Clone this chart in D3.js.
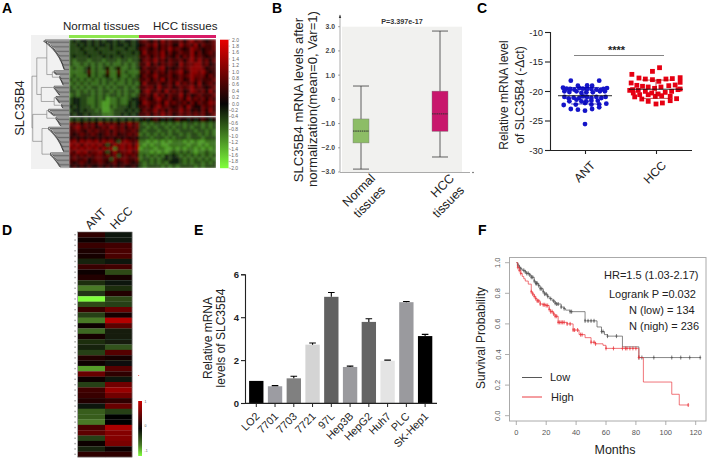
<!DOCTYPE html>
<html><head><meta charset="utf-8">
<script src="https://d3js.org/d3.v7.min.js"></script>
<style>
html,body{margin:0;padding:0;background:#fff}
svg{display:block}
text{font-family:"Liberation Sans",Arial,sans-serif;fill:#222}
</style></head><body><svg id="c" width="708" height="460" viewBox="0 0 708 460"></svg>
<script>
// ---------- Panel A: rows are "normal | HCC", digits run from green through black to red
const heatUpper=[
"3434434343443434434 676575867667578676567","3343434344343443434 567685767558676857667",
"3334333433343334334 676575768676568765667","3333433343333433343 586676857567668575676",
"3433343334343343333 667576866575768676566","3233323332333233233 577686757667578686757",
"3223232323232232323 668575767658677886756","2322352323523522323 576667856567678887566",
"2222362322622623222 667576757678568878656","2322252323522522323 576686667567678777576",
"3232323232332323233 667576857667568676667","2323232232323223232 586667567586767585676",
"3232323323232332323 667758667567678676567","3323232323323232332 578667586767568767586",
"2323332323233232323 667586757668575676667","3443322323122322344 676578667567586767576",
"3443322321122322434 587667586766757576687","4343332321132333434 667578676567586557676",
"3443433231123334343 576686757668675657586","4344343332223343434 667576867567676767567"];
const heatBand=["3434343434343434343 454565454565545456545"];
const heatLower=[
"7675767586767576867 323233232323233232323","6786767567687675767 332323323233232332323",
"6676576766757676676 323332332323333233232","6567667656767566767 232323232332323323232",
"5656565656565656565 333233323233323332333","7868787868786378767 221212121222121211222",
"8786878786368787868 212122112222212212122","7878787868782787878 122212211212122121212",
"7687867786368677867 222121212323232122322","6767676776767367676 232323243432323232323",
"6766756776637677667 233232343443232323232","6567656676567567656 323232324443232332323",
"5656565565656565565 323333232323333232333"];
const heatTicks=["2.0","1.8","1.6","1.4","1.2","1.0","0.8","0.6","0.4","0.2","0.0","-0.2","-0.4","-0.6","-0.8","-1.0","-1.2","-1.4","-1.6","-1.8","-2.0"];
// ---------- Panel B
const boxCats=["Normal tissues","HCC tissues"];
const boxLow=[-2.88,-2.38], boxQ1=[-1.8,-1.32], boxMed=[-1.31,-0.6], boxQ3=[-0.81,0.34], boxHigh=[0.55,2.82];
const boxTicks=[3,2,1,0,-1,-2,-3];
// ---------- Panel C
const antVals=[-18.25,-18.25,-19.1,-19.05,-19.1,-19.45,-19.6,-19.66,-19.77,-19.5,-19.6,-19.66,-19.66,-19.77,-19.77,-19.66,-19.5,-20.06,-20.17,-20.06,-20.34,-20.23,-20.23,-20.06,-20.06,-21,-21.24,-21.13,-21.19,-20.9,-21,-21.19,-21,-21.19,-21,-21.75,-21.47,-21.75,-21.75,-21.64,-21.64,-22.37,-22.3,-22.03,-22.3,-22.26,-22.15,-23.05,-23.16,-23.33,-23.05,-22.77,-25.6];
const antSpread=[-.2,.2,-.1,.03,.1,-.31,-.26,-.21,-.15,-.08,-.03,.03,.09,.16,.22,.26,.31,-.29,-.22,-.12,-.05,.02,.11,.21,.28,-.29,-.23,-.16,-.08,-.03,.03,.09,.16,.23,.29,-.22,-.12,-.05,.02,.09,.18,-.3,-.13,0,.09,.2,.3,-.2,-.1,0,.1,.2,0];
const hccVals=[-16.05,-16.67,-17.18,-17.8,-17.97,-18.08,-18.36,-17.97,-17.9,-17.74,-18.53,-18.64,-19.04,-19.2,-19.32,-19.55,-19.32,-19.1,-18.98,-19.77,-19.89,-20.06,-20.34,-20.5,-20.23,-20.06,-19.77,-21,-21.36,-20.62,-20.9,-20.8,-20.9,-21.3,-20.62,-20.34,-21.75,-22.2,-22.03,-21.64,-19.89,-19.66];
const hccSpread=[.05,-.05,-.34,-.24,-.15,-.05,.04,.14,.23,.34,.34,-.35,-.27,-.19,-.11,-.02,.07,.18,.27,-.33,-.25,-.15,-.06,.03,.13,.22,.31,-.3,-.2,-.11,-.01,.08,.2,.29,-.23,-.32,-.11,0,.09,.2,-.37,.34];
const scatCats=["ANT","HCC"], scatMean=[-20.8,-19.7], scatSD=[1.4,1.55];
// ---------- Panel D
const antRow=[.2,.05,.25,.12,.1,-.15,.25,.05,.15,-.2,-.6,-.25,-1,-.35,.25,-.3,-.6,.05,-.5,.1,-.2,-.15,-.3,.15,.05,-.7,.5,.05,-.3,.3,.25,.15,-.1,-.45,-.45,-.6,.35,.45,-.3,.03,-.15,.2];
const hccRow=[-.1,-.1,.3,.35,.35,-.1,.3,-.35,.1,-.1,-.2,.15,-.35,-.3,.5,.1,.9,.45,-.12,-.12,-.12,-.4,.4,.1,-.05,.4,.2,-.1,.55,.75,.55,.2,.5,-.3,0,0,.85,.65,.65,.6,.05,.2];
// ---------- Panel E
const cellLines=["LO2","7701","7703","7721","97L","Hep3B","HepG2","Huh7","PLC","SK-Hep1"];
const cellVals=[1.03,.78,1.15,2.72,4.95,1.68,3.78,1.97,4.7,3.12];
const cellErr=[0,.03,.1,.08,.2,.04,.15,.03,.03,.08];
const cellFill=["#000","#9c9ca2","#808080","#d4d4d4","#616161","#9a9a9e","#646464","#e4e4e4","#9a9a9e","#000"];
// ---------- Panel F
const lowMonths=[0,1,2,3,4,6,7,9,10,12,13,15,16,18,19,21,22,24,26,27,30,32,33,36,46,47,54,57,59,61,71,82,123];
const lowSurv=[1,.985,.97,.96,.95,.94,.93,.92,.905,.88,.865,.85,.83,.81,.795,.78,.765,.75,.735,.73,.71,.70,.69,.68,.62,.62,.58,.55,.53,.52,.45,.38,.38];
const highMonths=[0,1,2,3,4,5,6,8,10,11,12,13,14,16,18,20,22,23,25,26,28,34,38,42,46,50,53,58,60,82,83,85,104,109,115];
const highSurv=[1,.97,.95,.93,.91,.895,.88,.86,.81,.795,.78,.765,.75,.73,.725,.72,.695,.68,.665,.65,.61,.60,.56,.53,.51,.48,.47,.46,.44,.38,.38,.22,.14,.07,.07];
const lowCensor=[1,2,3,5,6,7,8,9,10,11,12,13,13.5,14,15,16,17,18,19,20,21,23,25,26,27,28,30,32,36,37,46,48,50,52,57,58,61,67,82,84,92,104,110,116,123];
const highCensor=[1,2,3,10,11,12,13,14,15,16,18,19,20,21,22,23,24,25,26,27,28,29,30,31,32,34,36,38,39,41,43,44,50,52,53,60,65,71,73,74,76,78,80,82,115];
const xMonths=[0,20,40,60,80,100,120], ySurv=[0,.2,.4,.6,.8,1];

const svg=d3.select("#c");
const txt=(g,x,y,s,size,o={})=>{const t=g.append("text").attr("x",x).attr("y",y).attr("font-size",size).text(s);
  if(o.anchor)t.attr("text-anchor",o.anchor); if(o.weight)t.attr("font-weight",o.weight); if(o.rot!=null)t.attr("transform",`rotate(${o.rot} ${x} ${y})`); if(o.fill)t.style("fill",o.fill); return t;};
[["A",2,13],["B",272,13],["C",477,13],["D",2,235],["E",194,235],["F",478,235]].forEach(d=>txt(svg,d[1],d[2],d[0],14,{weight:"bold"}).style("fill","#000"));

const defs=svg.append("defs");
const soft=(id,s)=>defs.append("filter").attr("id",id).attr("x","-5%").attr("y","-5%").attr("width","110%").attr("height","110%").append("feGaussianBlur").attr("stdDeviation",s);
soft("soft",.55);soft("softA",.95);
const heatColor=d3.scaleLinear().domain([-2,0,2]).range(["#80ff3c","#050505","#e80000"]).clamp(true);
const gradRed=(id,dom,col)=>{const g=defs.append("linearGradient").attr("id",id).attr("x1",0).attr("x2",0).attr("y1",0).attr("y2",1);
  dom.forEach(v=>g.append("stop").attr("offset",(dom[0]-v)/(dom[0]-dom[dom.length-1])).attr("stop-color",col(v)));};

// ===== A
{
 const g=svg.append("g");
 g.append("rect").attr("x",31).attr("y",35).attr("width",38).attr("height",134).attr("fill","#f1f1f1");
 txt(g,63,30,"Normal tissues",11.6);txt(g,153,30,"HCC tissues",11.6);
 g.append("rect").attr("x",69).attr("y",35).attr("width",70).attr("height",3).attr("fill","#8ee64e");
 g.append("rect").attr("x",139).attr("y",35).attr("width",77).attr("height",3).attr("fill","#d81b66");
 txt(g,24,108,"SLC35B4",13,{rot:-90,anchor:"middle"}).attr("y",108);
 const cp=defs.append("clipPath").attr("id","clipA");cp.append("rect").attr("x",69).attr("y",39).attr("width",147).attr("height",129);
 const hm=g.append("g").attr("clip-path","url(#clipA)").append("g").attr("filter","url(#softA)");
 const block=(rows,y0,y1)=>{
  const yS=d3.scaleBand().domain(d3.range(rows.length)).range([y0,y1]);
  rows.forEach((r,i)=>{const [a,b]=r.split(" ");
   [[a,69,139],[b,139,216]].forEach(([s,x0,x1])=>{
    const xS=d3.scaleBand().domain(d3.range(s.length)).range([x0,x1]);
    hm.selectAll(null).data(s.split("")).join("rect").attr("x",(d,j)=>xS(j)).attr("y",yS(i))
      .attr("width",xS.bandwidth()+.3).attr("height",yS.bandwidth()+.3).attr("fill",d=>heatColor((+d-4.5)/2.9));
   });});
 };
 block(heatUpper,39.3,116.3);block(heatBand,117.3,122);block(heatLower,122,168);
 g.append("rect").attr("x",69).attr("y",116).attr("width",147).attr("height",1.2).attr("fill","#c9c9c9");
 gradRed("barA",[2,0,-2],heatColor);
 g.append("rect").attr("x",220).attr("y",39.7).attr("width",8.5).attr("height",128.5).attr("fill","url(#barA)");
 const cy=d3.scalePoint().domain(heatTicks).range([39.7,168]);
 heatTicks.forEach(t=>{const y=cy(t);
  g.append("line").attr("x1",228.5).attr("x2",230).attr("y1",y).attr("y2",y).attr("stroke","#888").attr("stroke-width",.4);
  txt(g,t[0]=="-"?229.5:232,y+1.8,t,5,{fill:"#666"});});
 const ladder=(n)=>n<=1?{leaf:1}:{lad:1,children:[{leaf:1},ladder(n-1)]};
 const cl=(h,...ch)=>({h,children:ch});
 const tree=cl(0,
  cl(.13,
   cl(.40,cl(.30,ladder(24)),cl(.55,ladder(4),cl(.7,ladder(8)))),
   cl(.25,cl(.55,ladder(8)),cl(.6,ladder(6),cl(.75,ladder(4))))),
  cl(.02,
   cl(.40,ladder(6),cl(.6,ladder(8))),
   cl(.27,cl(.4,ladder(20)),cl(.45,ladder(12)))));
 const root=d3.hierarchy(tree);
 const leaves=root.leaves();
 const yy=d3.scaleLinear().domain([0,leaves.length-1]).range([40,167]);
 const xx=d3.scaleLinear().domain([0,1]).range([32,69]);
 leaves.forEach((l,i)=>{l.py=yy(i);l.hh=1;});
 root.eachAfter(n=>{if(n.children){n.py=d3.mean(n.children,c=>c.py);
   if(n.data.h!=null)n.hh=n.data.h;
   else n.hh=d3.min(n.children,c=>c.hh)-.03;}});
 root.eachBefore(n=>{if(n.data.lad&&n.parent&&n.parent.data.lad)n.hh=Math.min(.97,n.parent.hh+(1-n.parent.hh)*.07);
   if(n.data.lad&&n.parent&&!n.parent.data.lad)n.hh=n.parent.hh+.05;});
 root.links().forEach(l=>{const dark=l.source.data.lad;
  g.append("path").attr("d",`M${xx(l.source.hh)},${l.source.py}V${l.target.py}H${xx(l.target.hh)}`)
   .attr("fill","none").attr("stroke",dark?"#111":"#777").attr("stroke-width",.6);});
}

// ===== B
{
 const g=svg.append("g");
 const y=d3.scaleLinear().domain([-3,3]).range([172,26.7]);
 const x=d3.scalePoint().domain(boxCats).range([361,440]);
 g.append("rect").attr("x",342).attr("y",26.7).attr("width",120).attr("height",145.3).attr("fill","#f1f1ef");
 g.append("line").attr("x1",340).attr("x2",470).attr("y1",172.5).attr("y2",172.5).attr("stroke","#aaa").attr("stroke-width",1);
 g.append("line").attr("x1",340).attr("x2",340).attr("y1",15).attr("y2",172).attr("stroke","#777").attr("stroke-width",.6);
 g.append("path").attr("d","M338.8,18L340,14.5L341.2,18Z").attr("fill","#333");
 boxTicks.forEach(t=>{g.append("line").attr("x1",338).attr("x2",340).attr("y1",y(t)).attr("y2",y(t)).attr("stroke","#555").attr("stroke-width",.5);
  txt(g,335,y(t)+2.4,t===0?"0":d3.format(".1f")(t),6.8,{anchor:"end",weight:"bold",fill:"#444"});});
 txt(g,402,23.5,"P=3.397e-17",7.2,{anchor:"middle",weight:"bold",fill:"#333"});
 const cols=["#8dbd66","#c8176c"], bw=16;
 boxCats.forEach((c,i)=>{const cx=x(c),w=.8,s="#3a3a3a";
  g.append("line").attr("x1",cx).attr("x2",cx).attr("y1",y(boxHigh[i])).attr("y2",y(boxLow[i])).attr("stroke",s).attr("stroke-width",w);
  [boxHigh[i],boxLow[i]].forEach(v=>g.append("line").attr("x1",cx-8).attr("x2",cx+8).attr("y1",y(v)).attr("y2",y(v)).attr("stroke",s).attr("stroke-width",w));
  g.append("rect").attr("x",cx-bw/2).attr("y",y(boxQ3[i])).attr("width",bw).attr("height",y(boxQ1[i])-y(boxQ3[i])).attr("fill",cols[i]).attr("stroke","#777").attr("stroke-width",.4);
  g.append("line").attr("x1",cx-bw/2).attr("x2",cx+bw/2).attr("y1",y(boxMed[i])).attr("y2",y(boxMed[i])).attr("stroke","#333").attr("stroke-width",1).attr("stroke-dasharray","1.6 .6");
 });
 txt(g,303,100,"SLC35B4 mRNA levels after",13.1,{rot:-90,anchor:"middle"});
 txt(g,317,99,"normalization(mean=0, Var=1)",13.1,{rot:-90,anchor:"middle"});
 const lab=[["Normal","tissues"],["HCC","tissues"]];
 lab.forEach((l,i)=>{const cx=x(boxCats[i]);
  txt(g,cx+15,179,l[0],12.5,{rot:-45,anchor:"end"});
  txt(g,cx+25,191,l[1],12.5,{rot:-45,anchor:"end"});});
}

// ===== C
{
 const g=svg.append("g");
 const y=d3.scaleLinear().domain([-30,-10]).range([150,32]);
 const x=d3.scalePoint().domain(scatCats).range([585,656]);
 const step=x.step();
 const ax=g.append("g").attr("transform","translate(550,0)").call(d3.axisLeft(y).tickValues([-30,-25,-20,-15,-10]).tickSize(5).tickPadding(2).tickFormat(d=>d));
 ax.selectAll("text").attr("font-size",9.5).attr("font-family","Liberation Sans").style("fill","#222");
 ax.selectAll("line,path").attr("stroke","#222").attr("stroke-width",1.1);
 const bx=g.append("g").attr("transform","translate(0,150)").call(d3.axisBottom(x).tickSize(4).tickFormat(""));
 bx.select("path").remove();bx.selectAll("line").attr("stroke","#222").attr("stroke-width",1.1);
 g.append("line").attr("x1",550).attr("x2",692).attr("y1",150.5).attr("y2",150.5).attr("stroke","#222").attr("stroke-width",1.2);
 g.append("line").attr("x1",574).attr("x2",664).attr("y1",55.5).attr("y2",55.5).attr("stroke","#777").attr("stroke-width",.9);
 txt(g,616.5,54,"****",11,{anchor:"middle",weight:"bold"});
 g.selectAll("circle.a").data(antVals).join("circle").attr("cx",(d,i)=>x("ANT")+antSpread[i]*step).attr("cy",d=>y(d)).attr("r",2.4).attr("fill","#1414c8");
 g.selectAll("rect.h").data(hccVals).join("rect").attr("x",(d,i)=>x("HCC")+hccSpread[i]*step-2.4).attr("y",d=>y(d)-2.4).attr("width",4.8).attr("height",4.8).attr("fill","#e60012");
 scatCats.forEach((c,i)=>{const cx=x(c);
  g.append("line").attr("x1",cx-27).attr("x2",cx+27).attr("y1",y(scatMean[i])).attr("y2",y(scatMean[i])).attr("stroke","#111").attr("stroke-width",.9);
  [1,-1].forEach(k=>g.append("line").attr("x1",cx-14).attr("x2",cx+14).attr("y1",y(scatMean[i]+k*scatSD[i])).attr("y2",y(scatMean[i]+k*scatSD[i])).attr("stroke",i?"#a00":"#00a").attr("stroke-width",.7));
  g.append("line").attr("x1",cx).attr("x2",cx).attr("y1",y(scatMean[i]+scatSD[i])).attr("y2",y(scatMean[i]-scatSD[i])).attr("stroke",i?"#a00":"#00a").attr("stroke-width",.7);
  txt(g,cx+11,166,c,12,{rot:-45,anchor:"end"});
 });
 txt(g,508,95,"Relative mRNA level",12,{rot:-90,anchor:"middle"});
 txt(g,524,95,"of SLC35B4 (-\u0394ct)",12,{rot:-90,anchor:"middle"});
 g.append("circle").attr("cx",473).attr("cy",172.5).attr("r",.7).attr("fill","#333");
}

// ===== D
{
 const g=svg.append("g");
 const y=d3.scaleBand().domain(d3.range(antRow.length)).range([232,457]);
 const x=d3.scaleBand().domain(["ANT","HCC"]).range([78,132]);
 const col=d3.scaleLinear().domain([-1,-.6,0,1]).range(["#80ff3c","#487a26","#060606","#c80000"]).clamp(true);
 const h=g.append("g").attr("filter","url(#soft)");
 [["ANT",antRow],["HCC",hccRow]].forEach(([n,a])=>h.selectAll(null).data(a).join("rect").attr("x",x(n)).attr("y",(d,i)=>y(i)).attr("width",x.bandwidth()+.2).attr("height",y.bandwidth()+.2).attr("fill",d=>col(d)));
 g.append("rect").attr("x",77.5).attr("y",232).attr("width",54.5).attr("height",225).attr("fill","none").attr("stroke","#777").attr("stroke-width",.6);
 antRow.forEach((d,i)=>g.append("rect").attr("x",74.3).attr("y",y(i)+y.bandwidth()/2-.7).attr("width",1.6).attr("height",1.4).attr("fill","#aaa"));
 txt(g,90,230,"ANT",12,{rot:-45});
 txt(g,115,230,"HCC",12,{rot:-45});
 gradRed("barD",[1,.5,0,-.6,-1],col);
 g.append("rect").attr("x",138.2).attr("y",401).attr("width",3.8).attr("height",55).attr("fill","url(#barD)");
 [["1",402],["0",426],["-1",451]].forEach(d=>txt(g,144.5,d[1]+1,d[0],3.5,{fill:"#555"}));
 g.append("circle").attr("cx",138.7).attr("cy",375.5).attr("r",.5).attr("fill","#e33");
}

// ===== E
{
 const g=svg.append("g");
 const y=d3.scaleLinear().domain([0,6]).range([403,274.3]);
 const x=d3.scaleBand().domain(cellLines).range([244.7,436.7]).padding(.235);
 const ax=g.append("g").attr("transform","translate(245,0)").call(d3.axisLeft(y).tickValues([0,2,4,6]).tickSize(4).tickPadding(2).tickFormat(d=>d));
 ax.selectAll("text").attr("font-size",9.5).attr("font-family","Liberation Sans").attr("font-weight","bold").style("fill","#222");
 ax.selectAll("line,path").attr("stroke","#222").attr("stroke-width",1.1);
 g.selectAll("rect.b").data(cellVals).join("rect").attr("x",(d,i)=>x(cellLines[i])).attr("y",d=>y(d)).attr("width",x.bandwidth()).attr("height",d=>y(0)-y(d)).attr("fill",(d,i)=>cellFill[i]);
 cellVals.forEach((v,i)=>{if(!cellErr[i])return;const cx=x(cellLines[i])+x.bandwidth()/2;
  g.append("path").attr("d",`M${cx},${y(v)}V${y(v+cellErr[i])}M${cx-3.3},${y(v+cellErr[i])}H${cx+3.3}`).attr("stroke","#000").attr("stroke-width",1.1).attr("fill","none");});
 g.append("line").attr("x1",245).attr("x2",437).attr("y1",403.3).attr("y2",403.3).attr("stroke","#222").attr("stroke-width",1.2);
 cellLines.forEach(c=>{const cx=x(c)+x.bandwidth()/2;
  g.append("line").attr("x1",cx).attr("x2",cx).attr("y1",403).attr("y2",407).attr("stroke","#222").attr("stroke-width",1);
  txt(g,cx+4,417,c,10.8,{rot:-45,anchor:"end"});});
 txt(g,212,338,"Relative mRNA",12,{rot:-90,anchor:"middle"});
 txt(g,225,338,"levels of SLC35B4",12,{rot:-90,anchor:"middle"});
}

// ===== F
{
 const g=svg.append("g");
 const x=d3.scaleLinear().domain([0,120]).range([516.3,695.7]);
 const y=d3.scaleLinear().domain([0,1]).range([415.7,262.7]);
 g.append("rect").attr("x",509.5).attr("y",257.5).attr("width",196.5).attr("height",163.5).attr("fill","none").attr("stroke","#aaa").attr("stroke-width",1);
 xMonths.forEach(t=>{g.append("line").attr("x1",x(t)).attr("x2",x(t)).attr("y1",421).attr("y2",425).attr("stroke","#999").attr("stroke-width",.8);
  txt(g,x(t),434.5,t,7.5,{anchor:"middle",fill:"#555"});});
 ySurv.forEach(t=>{g.append("line").attr("x1",505).attr("x2",509).attr("y1",y(t)).attr("y2",y(t)).attr("stroke","#999").attr("stroke-width",.8);
  txt(g,500.5,y(t),d3.format(".1f")(t),7.5,{anchor:"middle",rot:-90,fill:"#555"});});
 const line=d3.line().curve(d3.curveStepAfter).x(d=>x(d[0])).y(d=>y(d[1]));
 const stepVal=(ms,ss,m)=>ss[Math.max(0,d3.bisectRight(ms,m)-1)];
 [[lowMonths,lowSurv,lowCensor,"#555"],[highMonths,highSurv,highCensor,"#ea3a40"]].forEach(([m,s,c,col])=>{
  g.append("path").attr("d",line(m.map((d,i)=>[d,s[i]]))).attr("fill","none").attr("stroke",col).attr("stroke-width",.7);
  g.selectAll(null).data(c).join("path").attr("d",d=>{const X=x(d),Y=y(stepVal(m,s,d));return `M${X},${Y-2}V${Y+2}M${X-1},${Y}H${X+1}`;}).attr("stroke",col).attr("stroke-width",.8).attr("fill","none");
 });
 txt(g,604,279,"HR=1.5 (1.03-2.17)",11);
 txt(g,609,298,"Logrank P =0.032",11);
 txt(g,629,314,"N (low) = 134",11);
 txt(g,629,330,"N (nigh) = 236",11);
 g.append("line").attr("x1",522).attr("x2",542).attr("y1",377.5).attr("y2",377.5).attr("stroke","#444").attr("stroke-width",.9);
 g.append("line").attr("x1",522).attr("x2",542).attr("y1",397).attr("y2",397).attr("stroke","#e8262e").attr("stroke-width",.9);
 txt(g,550,380.5,"Low",11);txt(g,551,401,"High",11);
 txt(g,485,338,"Survival Probability",12,{rot:-90,anchor:"middle"});
 txt(g,615,454,"Months",12.5,{anchor:"middle"});
}
</script></body></html>
